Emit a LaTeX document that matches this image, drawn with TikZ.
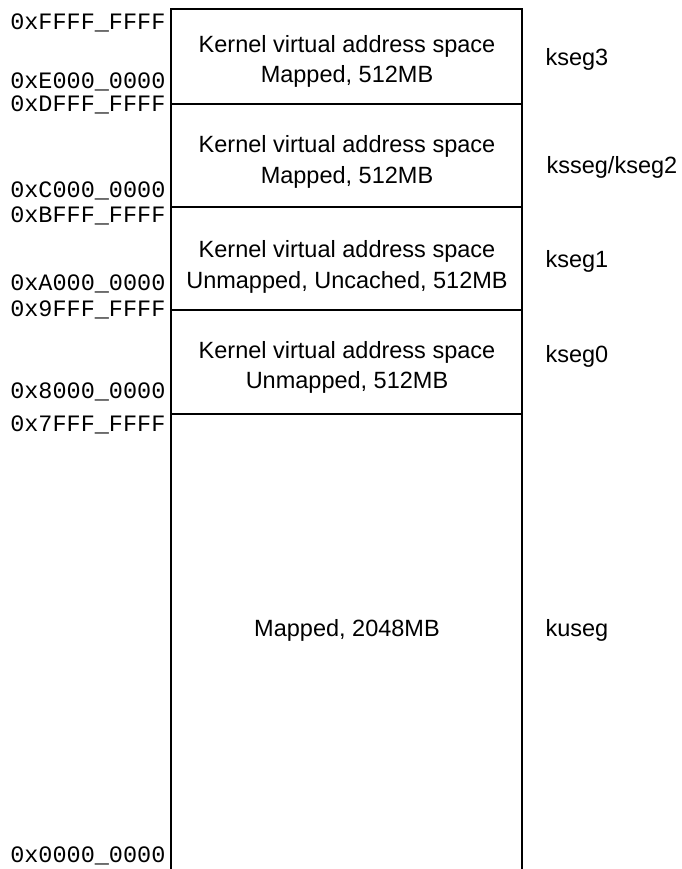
\documentclass[tikz,border=0pt]{standalone}
\usepackage{fontspec}
\setmainfont{Liberation Sans}
\newfontfamily\addrfont{Liberation Mono}
\begin{document}
\begin{tikzpicture}[x=1pt,y=-1pt,line width=1.2pt,
  addr/.style={anchor=base east,font=\addrfont\fontsize{23.5}{24}\selectfont,inner sep=0pt},
  body/.style={anchor=base,font=\fontsize{23.5}{30}\selectfont,inner sep=0pt},
  seg/.style={anchor=base west,font=\fontsize{23.5}{30}\selectfont,inner sep=0pt}]
\useasboundingbox (0,0) rectangle (681,869);
% frame
\coordinate (tl) at (171,9);
\coordinate (tr) at (522,9);
\coordinate (bl) at (171,869);
\coordinate (br) at (522,869);
\draw (bl) -- (tl) -- (tr) -- (br);
% dividers
\foreach \y/\n in {104/a,207/b,310/c,414/d}{
  \coordinate (\n l) at (171,\y);
  \coordinate (\n r) at (522,\y);
  \draw (\n l) -- (\n r);
}
% addresses
\node[addr] (f1) at (166,30)  {0xFFFF\_FFFF};
\node[addr] (e0) at (166,89)  {0xE000\_0000};
\node[addr] (df) at (166,112) {0xDFFF\_FFFF};
\node[addr] (c0) at (166,197) {0xC000\_0000};
\node[addr] (bf) at (166,222) {0xBFFF\_FFFF};
\node[addr] (a0) at (166,290) {0xA000\_0000};
\node[addr] (nf) at (166,316) {0x9FFF\_FFFF};
\node[addr] (e8) at (166,398) {0x8000\_0000};
\node[addr] (sf) at (166,431) {0x7FFF\_FFFF};
\node[addr] (z0) at (166,862) {0x0000\_0000};
% block texts
\node[body] (k3a) at (347,53)  {Kernel virtual address space};
\node[body] (k3b) at (347,83)  {Mapped, 512MB};
\node[body] (k2a) at (347,153) {Kernel virtual address space};
\node[body] (k2b) at (347,183) {Mapped, 512MB};
\node[body] (k1a) at (347,257) {Kernel virtual address space};
\node[body] (k1b) at (347,288) {Unmapped, Uncached, 512MB};
\node[body] (k0a) at (347,358) {Kernel virtual address space};
\node[body] (k0b) at (347,388) {Unmapped, 512MB};
\node[body] (ku)  at (347,636) {Mapped, 2048MB};
% segment names
\node[seg] (s3) at (545,66)  {kseg3};
\node[seg] (s2) at (546,173) {ksseg/kseg2};
\node[seg] (s1) at (545,267) {kseg1};
\node[seg] (s0) at (545,362) {kseg0};
\node[seg] (su) at (545,636) {kuseg};
\end{tikzpicture}
\end{document}
